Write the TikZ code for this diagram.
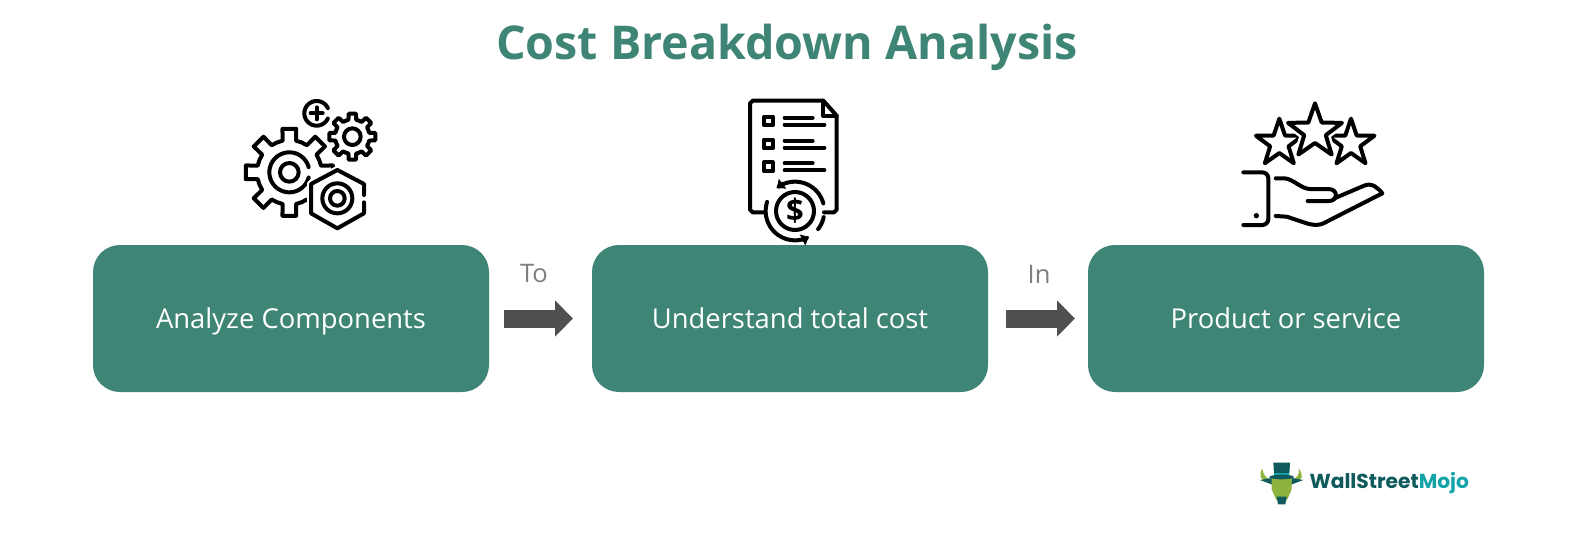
\documentclass[tikz,border=0pt]{standalone}
\usepackage{fontspec}
\setmainfont{Open Sans}
\newfontfamily\logofont{Poppins}
\usetikzlibrary{arrows.meta}
\definecolor{boxgreen}{HTML}{3E8576}
\definecolor{arrowgray}{HTML}{505050}
\definecolor{labelgray}{HTML}{7F7F7F}
\definecolor{logodark}{HTML}{0E5A5C}
\definecolor{logoteal}{HTML}{14A3A8}
\definecolor{logogreen}{HTML}{8DB33F}
\tikzset{
  stepbox/.style={fill=boxgreen,rounded corners=27pt,minimum width=396pt,minimum height=147pt,inner sep=0pt,outer sep=0pt,text=white,font=\fontsize{27.4}{30}\selectfont,text height=24pt,text depth=5pt},
  flowlabel/.style={text=labelgray,font=\fontsize{25.5}{30}\selectfont,inner sep=0pt},
  blockarrow/.style={draw=arrowgray,line width=18pt,-{Triangle[length=18pt,width=35pt,fill=arrowgray]}},
  icon/.style={draw=black,line width=4pt,line join=round,line cap=round}
}
\begin{document}
\begin{tikzpicture}[x=1pt,y=-1pt]
\useasboundingbox (0,0) rectangle (1586,533);
\fill[white] (0,0) rectangle (1586,533);

\node[text=boxgreen,font=\fontsize{46.6}{54}\selectfont\bfseries,inner sep=0pt] (title) at (787,47) {Cost Breakdown Analysis};

\node[stepbox] (a) at (291,318.5) {Analyze Components};
\node[stepbox] (b) at (790,318.5) {Understand total cost};
\node[stepbox] (c) at (1286,318.5) {Product or service};

\draw[blockarrow] ([xshift=15pt]a.east) -- ([xshift=-19pt]b.west);
\draw[blockarrow] ([xshift=18pt]b.east) -- ([xshift=-13pt]c.west);
\node[flowlabel] (to) at (534,274) {To};
\node[flowlabel] (in) at (1039,274) {In};

% gears icon
\begin{scope}[shift={(220,85)},scale=1/3]
  \draw[icon,shift={(208,262)}] (-22.5:97) \foreach \a in {0,45,...,315} { -- (\a-12:97) -- (\a-9:132) -- (\a+9:132) -- (\a+12:97) -- (\a+22.5:97)} -- cycle;
  \draw[icon] plot[smooth,domain=15:345,samples=50,variable=\t]({208+60*cos(\t)},{262+60*sin(\t)});
  \draw[icon] (208,262) circle[radius=28];
  \draw[draw=white,line width=8pt,line join=round,fill=white] (352,255) -- (432,297) -- (432,385) -- (352,430) -- (273,385) -- (273,297) -- cycle;
  \draw[icon] (432,330) -- (432,297) -- (352,255) -- (273,297) -- (273,385) -- (352,430) -- (432,385) -- (432,352);
  \draw[icon] (352,340) circle[radius=45];
  \draw[icon] (352,340) circle[radius=22];
  \draw[icon,shift={(397,155)}] (-22.5:52) \foreach \a in {0,45,...,315} { -- (\a-13:52) -- (\a-9:70) -- (\a+9:70) -- (\a+13:52) -- (\a+22.5:52)} -- cycle;
  \draw[icon] (397,155) circle[radius=25];
  \draw[icon] plot[smooth,domain=25:335,samples=40,variable=\t]({290+37*cos(\t)},{85+37*sin(\t)});
  \draw[icon] (272,85) -- (308,85) (290,67) -- (290,103);
\end{scope}

% document icon
\begin{scope}[shift={(720,85)},scale=1/3]
  \draw[icon] (130,382) -- (98,382) -- (90,374) -- (90,55) -- (98,47) -- (310,47) -- (350,92) -- (350,374) -- (342,382) -- (312,382);
  \draw[icon] (310,47) -- (310,92) -- (350,92);
  \foreach \y in {108,177,245} {
    \draw[icon,line width=4.3pt] (132,\y-13) rectangle (158,\y+13);
  }
  \foreach \y in {98,167,235} {
    \draw[icon] (194,\y) -- (278,\y);
    \draw[icon] (194,\y+21) -- (313,\y+21);
  }
  \draw[icon] (225,378) circle[radius=57];
  \node[inner sep=0pt,font=\fontsize{31}{31}\selectfont\bfseries] (coin) at (225,378) {\$};
  \draw[icon,-{Triangle[length=7pt,width=12pt]}] plot[smooth,domain=-15:-128,samples=30,variable=\t]({225+88*cos(\t)},{378+88*sin(\t)});
  \draw[icon,-{Triangle[length=7pt,width=12pt]}] plot[smooth,domain=198:62,samples=30,variable=\t]({225+88*cos(\t)},{378+88*sin(\t)});
  \draw[icon] plot[smooth,domain=38:12,samples=10,variable=\t]({225+88*cos(\t)},{378+88*sin(\t)});
\end{scope}

% stars and hand icon
\begin{scope}[shift={(1225,90)},scale=1/3]
  \draw[icon,shift={(163,160)}] (-90:74) -- (-54:29) -- (-18:74) -- (18:29) -- (54:74) -- (90:29) -- (126:74) -- (162:29) -- (198:74) -- (234:29) -- cycle;
  \draw[icon,shift={(378,160)}] (-90:74) -- (-54:29) -- (-18:74) -- (18:29) -- (54:74) -- (90:29) -- (126:74) -- (162:29) -- (198:74) -- (234:29) -- cycle;
  \draw[draw=white,fill=white,line width=9pt,line join=round,shift={(270,125)}] (-90:85) -- (-54:34) -- (-18:85) -- (18:34) -- (54:85) -- (90:34) -- (126:85) -- (162:34) -- (198:85) -- (234:34) -- cycle;
  \draw[icon,shift={(270,125)}] (-90:85) -- (-54:34) -- (-18:85) -- (18:34) -- (54:85) -- (90:34) -- (126:85) -- (162:34) -- (198:85) -- (234:34) -- cycle;
  \draw[icon,rounded corners=6pt] (55,247) -- (130,247) -- (130,405) -- (55,405);
  \fill (94,377) circle[radius=8];
  \draw[icon] (152,265) -- (180,265) .. controls (205,268) and (230,297) .. (255,297) -- (310,297) .. controls (340,297) and (340,333) .. (312,333) -- (248,333);
  \draw[icon] (328,325) -- (415,288) .. controls (440,275) and (460,295) .. (472,310) -- (305,395) .. controls (280,410) and (265,405) .. (245,400) -- (185,380) -- (152,378);
\end{scope}

% logo
\begin{scope}[shift={(1240,450)},scale=1/3]
  \fill[logogreen] (66,55) .. controls (58,75) and (58,90) .. (82,95) -- (92,88) .. controls (78,85) and (70,75) .. (66,55) -- cycle;
  \fill[logogreen] (176,55) .. controls (190,75) and (190,90) .. (166,95) -- (156,88) .. controls (170,85) and (180,75) .. (176,55) -- cycle;
  \fill[logodark] (60,90) -- (95,84) -- (97,104) -- cycle;
  \fill[logodark] (190,90) -- (155,84) -- (153,104) -- cycle;
  \fill[logogreen] (95,84) -- (155,84) -- (155,118) -- (141,150) -- (109,150) -- (95,118) -- cycle;
  \fill[logodark] (110,140) -- (140,140) -- (136,163) -- (114,163) -- cycle;
  \fill[logodark] (100,38) -- (150,38) -- (148,72) -- (102,72) -- cycle;
  \fill[logoteal] (102,68) -- (148,68) -- (148,76) -- (102,76) -- cycle;
  \fill[logodark] (125,81) ellipse[x radius=37,y radius=7];
  \node[inner sep=0pt,anchor=west,font=\logofont\fontsize{20.2}{22}\selectfont\bfseries] (logotext) at (208,98) {\textcolor{logodark}{WallStreet}\textcolor{logoteal}{Mojo}};
\end{scope}
\end{tikzpicture}
\end{document}
